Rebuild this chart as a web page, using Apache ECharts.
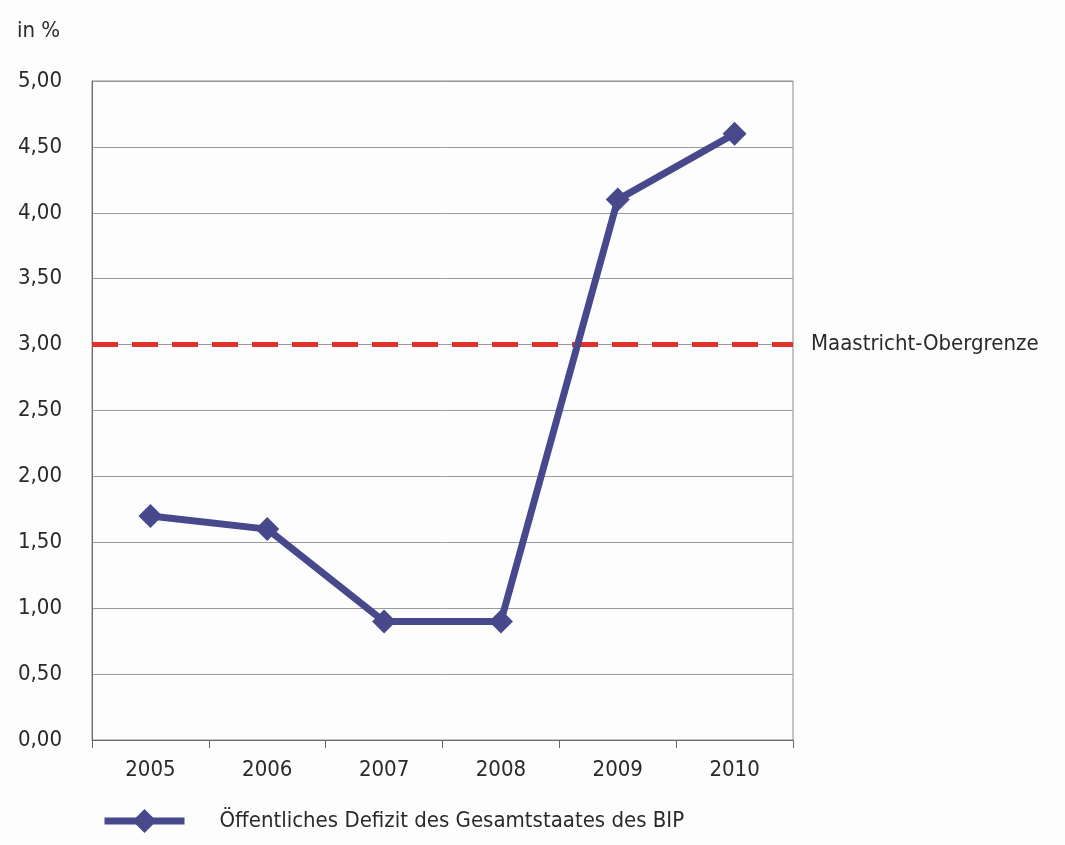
<!DOCTYPE html>
<html>
<head>
<meta charset="utf-8">
<script src="https://cdn.jsdelivr.net/npm/echarts@6/dist/echarts.min.js"></script>
<style>
  html, body { margin: 0; padding: 0; background: #fdfdfd; }
  #chart { width: 1065px; height: 845px; }
</style>
</head>
<body>
<div id="chart"></div>
<script>
const years = ['2005', '2006', '2007', '2008', '2009', '2010'];
const defizit = [1.7, 1.6, 0.9, 0.9, 4.1, 4.6];
const maastricht = 3.0;
const seriesName = 'Öffentliches Defizit des Gesamtstaates des BIP';
const limitLabel = 'Maastricht-Obergrenze';

const font = '"DejaVu Sans Condensed", "DejaVu Sans", sans-serif';
const textColor = '#2a2a2a';
const fs = 22;

let chart = echarts.init(document.getElementById('chart'), null, { renderer: 'canvas' });

let option = {
  backgroundColor: '#fdfdfd',
  textStyle: { fontFamily: font },
  title: {
    text: 'in %',
    left: 12,
    top: 15,
    textStyle: { fontFamily: font, fontSize: fs, fontWeight: 'normal', color: textColor }
  },
  grid: {
    left: 92,
    right: 272,
    top: 81,
    bottom: 105,
    show: true,
    borderColor: '#8a8a8a',
    borderWidth: 1,
    backgroundColor: 'transparent'
  },
  legend: {
    left: 96,
    top: 804,
    itemWidth: 80,
    itemHeight: 30,
    lineStyle: { width: 7 },
    textStyle: { fontFamily: font, fontSize: fs, color: textColor, padding: [0, 0, 0, 30] },
    data: [seriesName]
  },
  xAxis: {
    type: 'category',
    data: years,
    boundaryGap: true,
    axisLine: { lineStyle: { color: '#6a6a6a', width: 1 } },
    axisTick: { show: true, length: 8, lineStyle: { color: '#6a6a6a' } },
    axisLabel: { fontFamily: font, fontSize: fs, color: textColor, margin: 19 },
    splitLine: { show: false }
  },
  yAxis: {
    type: 'value',
    min: 0,
    max: 5,
    interval: 0.5,
    axisLine: { show: true, lineStyle: { color: '#6a6a6a', width: 1 } },
    axisTick: { show: false },
    axisLabel: {
      fontFamily: font,
      fontSize: fs,
      color: textColor,
      margin: 30,
      formatter: function (value) {
        return value.toFixed(2).replace('.', ',');
      }
    },
    splitLine: { lineStyle: { color: '#9a9a9a', width: 1 } }
  },
  series: [{
    name: seriesName,
    type: 'line',
    data: defizit,
    symbol: 'diamond',
    symbolSize: 24,
    lineStyle: { color: '#48488c', width: 7 },
    itemStyle: { color: '#48488c' },
    z: 5,
    markLine: {
      silent: true,
      symbol: 'none',
      lineStyle: { color: '#e0322a', width: 5, type: [26, 14] },
      label: {
        show: true,
        position: 'end',
        distance: 18,
        formatter: limitLabel,
        fontFamily: font,
        fontSize: fs,
        color: textColor
      },
      data: [{ yAxis: maastricht }],
      z: 3
    }
  }]
};

chart.setOption(option);
</script>
</body>
</html>
